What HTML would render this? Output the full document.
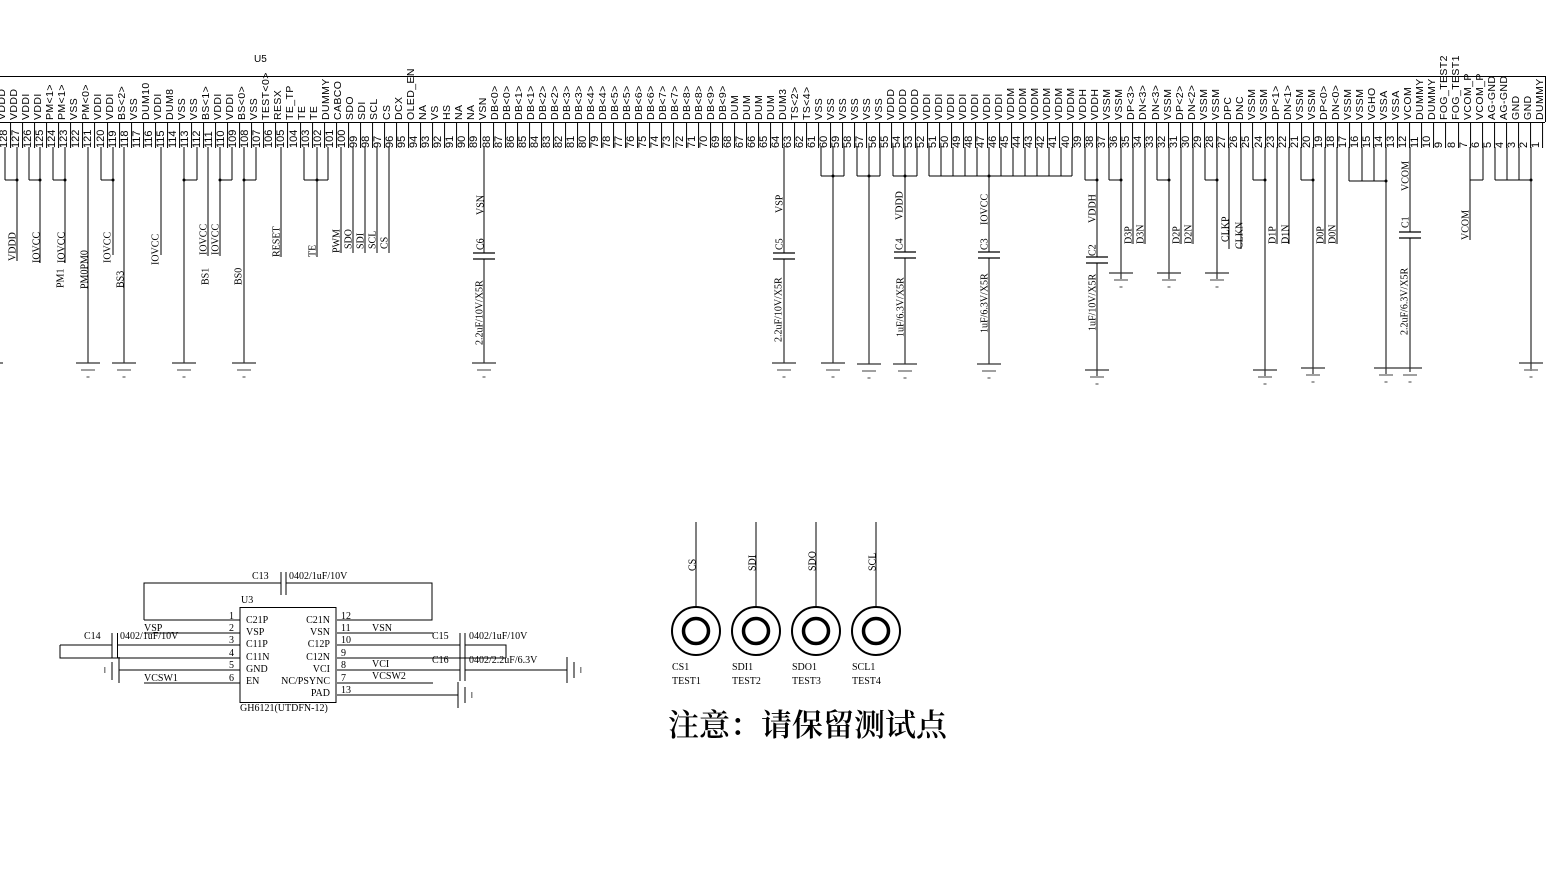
<!DOCTYPE html>
<html><head><meta charset="utf-8"><style>
html,body{margin:0;padding:0;background:#fff;width:1555px;height:872px;overflow:hidden;position:relative}
.row{position:absolute;display:flex}
.row i{font-style:normal;writing-mode:vertical-rl;transform:rotate(180deg);font-family:"Liberation Sans",sans-serif;box-sizing:border-box;line-height:11px;white-space:nowrap;min-width:0;overflow:visible}
#nm{left:-3px;top:70px;height:50px}
#nm i{flex:0 0 12.03px;width:12.03px;font-size:10.5px;letter-spacing:.4px;text-align:start}
#nu{left:-1px;top:123px;height:25px}
#nu i{flex:0 0 12.07px;width:12.07px;font-size:11px;border-left:1px solid #000;text-align:start;overflow:hidden}
svg{position:absolute;left:0;top:0}
svg text{font-family:"Liberation Serif",serif;font-size:10px;fill:#000}
</style></head><body>
<svg width="1555" height="872" viewBox="0 0 1555 872">
<defs>
<symbol id="g" overflow="visible"><line x1="-12" y1="0" x2="12" y2="0" stroke="#333" stroke-width="1.3"/><line x1="-7" y1="7" x2="7" y2="7" stroke="#888" stroke-width="1.6"/><line x1="-1.5" y1="14" x2="1.5" y2="14" stroke="#888" stroke-width="1.6"/></symbol>
<symbol id="c" overflow="visible"><line x1="-11" y1="0" x2="11" y2="0" stroke="#000" stroke-width="1.3"/><line x1="-11" y1="6" x2="11" y2="6" stroke="#000" stroke-width="1.3"/></symbol>
</defs>
<g stroke="#000" stroke-width="1" fill="none">
<line x1="0" y1="76.5" x2="1545" y2="76.5"/><line x1="0" y1="122.5" x2="1545" y2="122.5"/><line x1="1545.5" y1="76" x2="1545.5" y2="122"/>
<path d="M5 180H17M29 180H40M53 180H65M101 180H113M184 180H197M220 180H232M244 180H256M304 180H328"/>
<path d="M5 147V180M17 147V261M29 147V180M40 147V263M53 147V180M65 147V263M88 147V363M101 147V180M113 147V255M124 147V363M161 147V255M184 147V363M197 147V180M208 147V256M220 147V256M232 147V180M244 147V363M256 147V180M281 147V257M304 147V180M317 147V257M328 147V180M341 147V253M353 147V253M365 147V253M377 147V253M389 147V253M484 147V253M484 259V363"/>
<path d="M784 147V253M784 259V363"/>
<path d="M821 176H844M857 176H880M893 176H917M929 176H1072"/>
<path d="M821 147V176M833 147V363M844 147V176M857 147V176M869 147V364M880 147V176M893 147V176M905 147V252M905 258V364M917 147V176M929 147V176M941 147V176M953 147V176M965 147V176M977 147V176M989 147V252M989 258V364M1001 147V176M1013 147V176M1025 147V176M1037 147V176M1049 147V176M1061 147V176M1072 147V176"/>
<path d="M1085 180H1097M1109 180H1121M1157 180H1169M1205 180H1217M1253 180H1265M1301 180H1313M1349 181H1386M1470 180H1483M1495 180H1531"/>
<path d="M1085 147V180M1097 147V257M1097 263V376M1109 147V180M1121 147V279M1133 147V244M1145 147V244M1157 147V180M1169 147V279M1181 147V244M1193 147V244M1205 147V180M1217 147V279M1229 147V249M1241 147V249M1253 147V180M1265 147V376M1277 147V244M1289 147V244M1301 147V180M1313 147V374M1325 147V244M1337 147V244M1349 147V181M1362 147V181M1374 147V181M1386 147V374M1410 147V232M1410 238V372M1470 147V240M1483 147V180M1495 147V180M1507 147V180M1519 147V180M1531 147V371"/>
</g>
<g fill="#000">
<circle cx="17" cy="180" r="1.5"/><circle cx="40" cy="180" r="1.5"/><circle cx="65" cy="180" r="1.5"/><circle cx="113" cy="180" r="1.5"/><circle cx="184" cy="180" r="1.5"/><circle cx="220" cy="180" r="1.5"/><circle cx="244" cy="180" r="1.5"/><circle cx="317" cy="180" r="1.5"/>
<circle cx="833" cy="176" r="1.5"/><circle cx="869" cy="176" r="1.5"/><circle cx="905" cy="176" r="1.5"/><circle cx="989" cy="176" r="1.5"/><circle cx="1097" cy="180" r="1.5"/><circle cx="1121" cy="180" r="1.5"/><circle cx="1169" cy="180" r="1.5"/><circle cx="1217" cy="180" r="1.5"/><circle cx="1265" cy="180" r="1.5"/><circle cx="1313" cy="180" r="1.5"/><circle cx="1386" cy="181" r="1.5"/><circle cx="1531" cy="180" r="1.5"/>
</g>
<use href="#c" x="484" y="253"/><use href="#c" x="784" y="253"/><use href="#c" x="905" y="252"/><use href="#c" x="989" y="252"/><use href="#c" x="1097" y="257"/><use href="#c" x="1410" y="232"/>
<use href="#g" x="88" y="363"/><use href="#g" x="124" y="363"/><use href="#g" x="184" y="363"/><use href="#g" x="244" y="363"/><use href="#g" x="484" y="363"/><use href="#g" x="-9" y="363"/>
<use href="#g" x="784" y="363"/><use href="#g" x="833" y="363"/><use href="#g" x="869" y="364"/><use href="#g" x="905" y="364"/><use href="#g" x="989" y="364"/>
<use href="#g" x="1097" y="370"/><use href="#g" x="1121" y="273"/><use href="#g" x="1169" y="273"/><use href="#g" x="1217" y="273"/><use href="#g" x="1265" y="370"/><use href="#g" x="1313" y="368"/><use href="#g" x="1386" y="368"/><use href="#g" x="1410" y="368"/><use href="#g" x="1531" y="363"/>
<text x="254" y="62" style="font-family:'Liberation Sans',sans-serif;font-size:10px">U5</text>
<text transform="translate(15.5,261)rotate(-90)">VDDD</text>
<text transform="translate(39.5,263)rotate(-90)">IOVCC</text>
<text transform="translate(64.5,263)rotate(-90)">IOVCC</text>
<text transform="translate(63.5,288)rotate(-90)">PM1</text>
<text transform="translate(87.5,289)rotate(-90)">PM0PM0</text>
<text transform="translate(110.5,263)rotate(-90)">IOVCC</text>
<text transform="translate(123.5,288)rotate(-90)">BS3</text>
<text transform="translate(158.5,265)rotate(-90)">IOVCC</text>
<text transform="translate(206.5,255)rotate(-90)">IOVCC</text>
<text transform="translate(218.5,255)rotate(-90)">IOVCC</text>
<text transform="translate(208.5,285)rotate(-90)">BS1</text>
<text transform="translate(241.5,285)rotate(-90)">BS0</text>
<text transform="translate(279.5,257)rotate(-90)">RESET</text>
<text transform="translate(315.5,257)rotate(-90)">TE</text>
<text transform="translate(339.5,253)rotate(-90)">PWM</text>
<text transform="translate(351.5,249)rotate(-90)">SDO</text>
<text transform="translate(363.5,249)rotate(-90)">SDI</text>
<text transform="translate(375.5,249)rotate(-90)">SCL</text>
<text transform="translate(387.5,249)rotate(-90)">CS</text>
<text transform="translate(483.5,215)rotate(-90)">VSN</text>
<text transform="translate(483.5,250)rotate(-90)">C6</text>
<text transform="translate(482.5,345)rotate(-90)">2.2uF/10V/X5R</text>
<text transform="translate(782.5,213)rotate(-90)">VSP</text>
<text transform="translate(782.5,250)rotate(-90)">C5</text>
<text transform="translate(781.5,342)rotate(-90)">2.2uF/10V/X5R</text>
<text transform="translate(902.5,220)rotate(-90)">VDDD</text>
<text transform="translate(902.5,250)rotate(-90)">C4</text>
<text transform="translate(903.5,337)rotate(-90)">1uF/6.3V/X5R</text>
<text transform="translate(987.5,225)rotate(-90)">IOVCC</text>
<text transform="translate(987.5,250)rotate(-90)">C3</text>
<text transform="translate(987.5,333)rotate(-90)">1uF/6.3V/X5R</text>
<text transform="translate(1095.5,223)rotate(-90)">VDDH</text>
<text transform="translate(1095.5,256)rotate(-90)">C2</text>
<text transform="translate(1095.5,331)rotate(-90)">1uF/10V/X5R</text>
<text transform="translate(1131.5,244)rotate(-90)">D3P</text>
<text transform="translate(1143.5,244)rotate(-90)">D3N</text>
<text transform="translate(1179.5,244)rotate(-90)">D2P</text>
<text transform="translate(1191.5,244)rotate(-90)">D2N</text>
<text transform="translate(1228.5,242)rotate(-90)">CLKP</text>
<text transform="translate(1242.5,249)rotate(-90)">CLKN</text>
<text transform="translate(1275.5,244)rotate(-90)">D1P</text>
<text transform="translate(1288.5,244)rotate(-90)">D1N</text>
<text transform="translate(1323.5,244)rotate(-90)">D0P</text>
<text transform="translate(1335.5,244)rotate(-90)">D0N</text>
<text transform="translate(1408.5,191)rotate(-90)">VCOM</text>
<text transform="translate(1408.5,228)rotate(-90)">C1</text>
<text transform="translate(1407.5,335)rotate(-90)">2.2uF/6.3V/X5R</text>
<text transform="translate(1468.5,240)rotate(-90)">VCOM</text>

<g stroke="#000" stroke-width="1" fill="none">
<rect x="240" y="607.5" width="96" height="95"/>
<path d="M144 620H240M144 620V583H281M286 583H432V620H337"/>
<path d="M281 572V595M286 572V595"/>
<path d="M144 633H240M117 645H240M60 645H112M60 645V658H240M119 670H240M144 683H240"/>
<path d="M112 633V658M117.5 633V658"/>
<path d="M119 657V683M112 662V680"/>
<path d="M337 633H433M337 645H460M465 645H506V658M337 658H506M337 670H460M465 670H567M337 683H433M337 695H458"/>
<path d="M460 633V681M465 633V681"/>
<path d="M567 657V683M574 662V678"/>
<path d="M458 682V708M465 687V703"/>
</g>
<g fill="#888"><rect x="104" y="667" width="1.5" height="6"/><rect x="580" y="667" width="1.5" height="6"/><rect x="471" y="692" width="1.5" height="6"/></g>
<text x="252" y="579">C13</text><text x="289" y="579">0402/1uF/10V</text>
<text x="241" y="603">U3</text>
<text x="229" y="619">1</text><text x="229" y="631">2</text><text x="229" y="643">3</text><text x="229" y="656">4</text><text x="229" y="668">5</text><text x="229" y="681">6</text>
<text x="246" y="623">C21P</text><text x="246" y="635">VSP</text><text x="246" y="647">C11P</text><text x="246" y="660">C11N</text><text x="246" y="672">GND</text><text x="246" y="684">EN</text>
<g text-anchor="end"><text x="330" y="623">C21N</text><text x="330" y="635">VSN</text><text x="330" y="647">C12P</text><text x="330" y="660">C12N</text><text x="330" y="672">VCI</text><text x="330" y="684">NC/PSYNC</text><text x="330" y="696">PAD</text></g>
<text x="341" y="619">12</text><text x="341" y="631">11</text><text x="341" y="643">10</text><text x="341" y="656">9</text><text x="341" y="668">8</text><text x="341" y="681">7</text><text x="341" y="693">13</text>
<text x="144" y="631">VSP</text><text x="144" y="681">VCSW1</text>
<text x="84" y="639">C14</text><text x="120" y="639">0402/1uF/10V</text>
<text x="372" y="631">VSN</text><text x="372" y="667">VCI</text><text x="372" y="679">VCSW2</text>
<text x="432" y="639">C15</text><text x="469" y="639">0402/1uF/10V</text>
<text x="432" y="663">C16</text><text x="469" y="663">0402/2.2uF/6.3V</text>
<text x="240" y="711">GH6121(UTDFN-12)</text>

<g stroke="#000" fill="none">
<path d="M696 522V607M756 522V607M816 522V607M876 522V607" stroke-width="1"/>
<circle cx="696" cy="631" r="24" stroke-width="2"/><circle cx="696" cy="631" r="12.5" stroke-width="3.5"/>
<circle cx="756" cy="631" r="24" stroke-width="2"/><circle cx="756" cy="631" r="12.5" stroke-width="3.5"/>
<circle cx="816" cy="631" r="24" stroke-width="2"/><circle cx="816" cy="631" r="12.5" stroke-width="3.5"/>
<circle cx="876" cy="631" r="24" stroke-width="2"/><circle cx="876" cy="631" r="12.5" stroke-width="3.5"/>
</g>
<text transform="translate(695.5,571)rotate(-90)">CS</text>
<text transform="translate(755.5,571)rotate(-90)">SDI</text>
<text transform="translate(815.5,571)rotate(-90)">SDO</text>
<text transform="translate(875.5,571)rotate(-90)">SCL</text>
<text x="672" y="670">CS1</text><text x="672" y="684">TEST1</text>
<text x="732" y="670">SDI1</text><text x="732" y="684">TEST2</text>
<text x="792" y="670">SDO1</text><text x="792" y="684">TEST3</text>
<text x="852" y="670">SCL1</text><text x="852" y="684">TEST4</text>
<text x="668" y="736" style="font-family:'Noto Serif CJK SC',serif;font-size:31px;font-weight:600">注意：请保留测试点</text>
</svg>
<div class="row" id="nm"><i>VDDD</i><i>VDDD</i><i>VDDI</i><i>VDDI</i><i>PM&lt;1&gt;</i><i>PM&lt;1&gt;</i><i>VSS</i><i>PM&lt;0&gt;</i><i>VDDI</i><i>VDDI</i><i>BS&lt;2&gt;</i><i>VSS</i><i>DUM10</i><i>VDDI</i><i>DUM8</i><i>VSS</i><i>VSS</i><i>BS&lt;1&gt;</i><i>VDDI</i><i>VDDI</i><i>BS&lt;0&gt;</i><i>VSS</i><i>TEST&lt;0&gt;</i><i>RESX</i><i>TE_TP</i><i>TE</i><i>TE</i><i>DUMMY</i><i>CABCO</i><i>SDO</i><i>SDI</i><i>SCL</i><i>CS</i><i>DCX</i><i>OLED_EN</i><i>NA</i><i>VS</i><i>HS</i><i>NA</i><i>NA</i><i>VSN</i><i>DB&lt;0&gt;</i><i>DB&lt;0&gt;</i><i>DB&lt;1&gt;</i><i>DB&lt;1&gt;</i><i>DB&lt;2&gt;</i><i>DB&lt;2&gt;</i><i>DB&lt;3&gt;</i><i>DB&lt;3&gt;</i><i>DB&lt;4&gt;</i><i>DB&lt;4&gt;</i><i>DB&lt;5&gt;</i><i>DB&lt;5&gt;</i><i>DB&lt;6&gt;</i><i>DB&lt;6&gt;</i><i>DB&lt;7&gt;</i><i>DB&lt;7&gt;</i><i>DB&lt;8&gt;</i><i>DB&lt;8&gt;</i><i>DB&lt;9&gt;</i><i>DB&lt;9&gt;</i><i>DUM</i><i>DUM</i><i>DUM</i><i>DUM</i><i>DUM3</i><i>TS&lt;2&gt;</i><i>TS&lt;4&gt;</i><i>VSS</i><i>VSS</i><i>VSS</i><i>VSS</i><i>VSS</i><i>VSS</i><i>VDDD</i><i>VDDD</i><i>VDDD</i><i>VDDI</i><i>VDDI</i><i>VDDI</i><i>VDDI</i><i>VDDI</i><i>VDDI</i><i>VDDI</i><i>VDDM</i><i>VDDM</i><i>VDDM</i><i>VDDM</i><i>VDDM</i><i>VDDM</i><i>VDDH</i><i>VDDH</i><i>VSSM</i><i>VSSM</i><i>DP&lt;3&gt;</i><i>DN&lt;3&gt;</i><i>DN&lt;3&gt;</i><i>VSSM</i><i>DP&lt;2&gt;</i><i>DN&lt;2&gt;</i><i>VSSM</i><i>VSSM</i><i>DPC</i><i>DNC</i><i>VSSM</i><i>VSSM</i><i>DP&lt;1&gt;</i><i>DN&lt;1&gt;</i><i>VSSM</i><i>VSSM</i><i>DP&lt;0&gt;</i><i>DN&lt;0&gt;</i><i>VSSM</i><i>VSSM</i><i>VGHO</i><i>VSSA</i><i>VSSA</i><i>VCOM</i><i>DUMMY</i><i>DUMMY</i><i>FOG_TEST2</i><i>FOG_TEST1</i><i>VCOM_P</i><i>VCOM_P</i><i>AG-GND</i><i>AG-GND</i><i>GND</i><i>GND</i><i>DUMMY</i></div>
<div class="row" id="nu"><i>128</i><i>127</i><i>126</i><i>125</i><i>124</i><i>123</i><i>122</i><i>121</i><i>120</i><i>119</i><i>118</i><i>117</i><i>116</i><i>115</i><i>114</i><i>113</i><i>112</i><i>111</i><i>110</i><i>109</i><i>108</i><i>107</i><i>106</i><i>105</i><i>104</i><i>103</i><i>102</i><i>101</i><i>100</i><i>99</i><i>98</i><i>97</i><i>96</i><i>95</i><i>94</i><i>93</i><i>92</i><i>91</i><i>90</i><i>89</i><i>88</i><i>87</i><i>86</i><i>85</i><i>84</i><i>83</i><i>82</i><i>81</i><i>80</i><i>79</i><i>78</i><i>77</i><i>76</i><i>75</i><i>74</i><i>73</i><i>72</i><i>71</i><i>70</i><i>69</i><i>68</i><i>67</i><i>66</i><i>65</i><i>64</i><i>63</i><i>62</i><i>61</i><i>60</i><i>59</i><i>58</i><i>57</i><i>56</i><i>55</i><i>54</i><i>53</i><i>52</i><i>51</i><i>50</i><i>49</i><i>48</i><i>47</i><i>46</i><i>45</i><i>44</i><i>43</i><i>42</i><i>41</i><i>40</i><i>39</i><i>38</i><i>37</i><i>36</i><i>35</i><i>34</i><i>33</i><i>32</i><i>31</i><i>30</i><i>29</i><i>28</i><i>27</i><i>26</i><i>25</i><i>24</i><i>23</i><i>22</i><i>21</i><i>20</i><i>19</i><i>18</i><i>17</i><i>16</i><i>15</i><i>14</i><i>13</i><i>12</i><i>11</i><i>10</i><i>9</i><i>8</i><i>7</i><i>6</i><i>5</i><i>4</i><i>3</i><i>2</i><i>1</i></div>
</body></html>
